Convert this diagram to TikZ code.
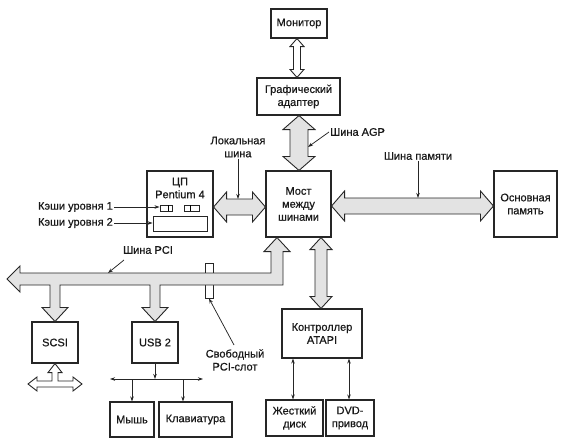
\documentclass[tikz,border=0pt]{standalone}
\usepackage{fontspec}
\setmainfont[FakeBold=0.6]{Liberation Sans}
\usetikzlibrary{arrows.meta,calc}
% vertical double fat arrow: #1 style, #2 upper anchor, #3 lower anchor, #4 x, #5 shaft half, #6 head half, #7 head length
\newcommand\busV[7]{%
 \path[#1] let \p1=(#2), \p2=(#3) in
 (#4pt,\y1) -- ({#4pt+#6pt},{\y1-#7pt}) -- ({#4pt+#5pt},{\y1-#7pt}) -- ({#4pt+#5pt},{\y2+#7pt}) -- ({#4pt+#6pt},{\y2+#7pt}) -- (#4pt,\y2) -- ({#4pt-#6pt},{\y2+#7pt}) -- ({#4pt-#5pt},{\y2+#7pt}) -- ({#4pt-#5pt},{\y1-#7pt}) -- ({#4pt-#6pt},{\y1-#7pt}) -- cycle;}
% horizontal double fat arrow: #4 = y (downward picture units)
\newcommand\busH[7]{%
 \path[#1] let \p1=(#2), \p2=(#3) in
 (\x1,-#4pt) -- ({\x1+#7pt},{-#4pt+#6pt}) -- ({\x1+#7pt},{-#4pt+#5pt}) -- ({\x2-#7pt},{-#4pt+#5pt}) -- ({\x2-#7pt},{-#4pt+#6pt}) -- (\x2,-#4pt) -- ({\x2-#7pt},{-#4pt-#6pt}) -- ({\x2-#7pt},{-#4pt-#5pt}) -- ({\x1+#7pt},{-#4pt-#5pt}) -- ({\x1+#7pt},{-#4pt-#6pt}) -- cycle;}
\begin{document}
\begin{tikzpicture}[x=1pt,y=-1pt,
  box/.style={draw=black!85, line width=1.1pt, fill=white, align=center, inner sep=1pt,
    font=\fontsize{11}{13}\selectfont, text=black!90},
  small/.style={draw=black!85, line width=0.9pt, fill=white, inner sep=0pt},
  bus/.style={draw=black!85, line width=0.9pt, fill=gray!22, line join=miter},
  hollow/.style={draw=black!85, line width=0.9pt, fill=white, line join=miter},
  ptr/.style={-{Stealth[length=5pt,width=3.5pt]}, line width=0.75pt, draw=black!85},
  thin/.style={{Stealth[length=5pt,width=3.5pt]}-{Stealth[length=5pt,width=3.5pt]}, line width=0.75pt, draw=black!85},
  lbl/.style={align=center, inner sep=1pt, font=\fontsize{11}{13}\selectfont, text=black!90}]
\useasboundingbox (0,0) rectangle (572,447);

% main boxes
\node[box, minimum width=56pt, minimum height=29pt] (mon) at (299,23.5) {Монитор};
\node[box, minimum width=83pt, minimum height=37pt] (ga) at (298.5,96.5) {Графический\\адаптер};
\node[box, minimum width=65pt, minimum height=66pt] (br) at (298.5,204) {Мост\\между\\шинами};
\node[box, minimum width=63pt, minimum height=66pt] (mem) at (525.5,204) {Основная\\память};
\node[box, minimum width=66pt, minimum height=66pt] (cpu) at (180,204) {};
\node[lbl] (cputxt) at (180,188) {ЦП\\Pentium 4};
\node[small, minimum width=12pt, minimum height=6pt] (l1a) at (166,208) {};
\node[small, minimum width=15pt, minimum height=6pt] (l1b) at (191.5,208) {};
\draw[line width=0.5pt] (168,205) -- (168,211) (190,205) -- (190,211);
\node[small, minimum width=54pt, minimum height=15pt] (l2) at (180,223.5) {};

\node[box, minimum width=46pt, minimum height=41pt] (scsi) at (55,342.5) {SCSI};
\node[box, minimum width=46pt, minimum height=41pt] (usb) at (155,342.5) {USB 2};
\node[box, minimum width=80pt, minimum height=49pt] (atapi) at (322,333.5) {Контроллер\\ATAPI};
\node[box, minimum width=57pt, minimum height=36pt] (hdd) at (294.5,418) {Жесткий\\диск};
\node[box, minimum width=48pt, minimum height=36pt] (dvd) at (350,418) {DVD-\\привод};
\node[box, minimum width=44pt, minimum height=35pt] (mouse) at (132,419.5) {Мышь};
\node[box, minimum width=73pt, minimum height=35pt] (kbd) at (195.5,419.5) {Клавиатура};

% free PCI slot (drawn under the bus)
\node[small, minimum width=8pt, minimum height=35pt] (slot) at (209,280.5) {};

% fat buses
\busV{hollow}{mon.south}{ga.north}{297}{3.5}{7}{8}
\busV{bus}{ga.south}{br.north}{299}{9}{16}{14}
\busH{bus}{cpu.east}{br.west}{207}{8}{15}{13}
\busH{bus}{br.east}{mem.west}{206}{8}{15}{13}
\busV{bus}{br.south}{atapi.north}{321}{6}{11}{12}

% PCI bus
\path[bus] let \p1=(br.south), \p2=(scsi.north), \p3=(usb.north) in
 (7pt,-279pt) -- (20pt,-266pt) -- (20pt,-273pt) -- (271pt,-273pt) -- (271pt,{\y1-14pt}) -- (264pt,{\y1-14pt}) -- (277pt,\y1) -- (290pt,{\y1-14pt}) -- (283pt,{\y1-14pt}) -- (283pt,-285pt)
 -- ({\x3+5pt},-285pt) -- ({\x3+5pt},{\y3+14pt}) -- ({\x3+13pt},{\y3+14pt}) -- (\x3,\y3) -- ({\x3-13pt},{\y3+14pt}) -- ({\x3-5pt},{\y3+14pt}) -- ({\x3-5pt},-285pt)
 -- ({\x2+5pt},-285pt) -- ({\x2+5pt},{\y2+14pt}) -- ({\x2+13pt},{\y2+14pt}) -- (\x2,\y2) -- ({\x2-13pt},{\y2+14pt}) -- ({\x2-5pt},{\y2+14pt}) -- ({\x2-5pt},-285pt)
 -- (20pt,-285pt) -- (20pt,-292pt) -- cycle;

% SCSI external connector (T-shaped hollow arrow)
\path[hollow] let \p1=(scsi.south) in
 (\x1,\y1) -- ({\x1+7pt},{\y1-9pt}) -- ({\x1+3pt},{\y1-9pt}) -- ({\x1+3pt},-381pt) -- ({\x1+18pt},-381pt) -- ({\x1+18pt},-377pt) -- ({\x1+27pt},-384pt) -- ({\x1+18pt},-391pt) -- ({\x1+18pt},-387pt)
 -- ({\x1-18pt},-387pt) -- ({\x1-18pt},-391pt) -- ({\x1-27pt},-384pt) -- ({\x1-18pt},-377pt) -- ({\x1-18pt},-381pt) -- ({\x1-3pt},-381pt) -- ({\x1-3pt},{\y1-9pt}) -- ({\x1-7pt},{\y1-9pt}) -- cycle;

% USB tree
\coordinate (uj) at (155,379);
\coordinate (ul) at (110,379);
\coordinate (ur) at (203,379);
\draw[ptr] (usb.south) -- (uj);
\draw[thin] (ul) -- (ur);
\draw[ptr] (mouse.north |- uj) -- (mouse.north);
\draw[ptr] (183,379) -- (kbd.north -| 183,0);

% ATAPI to drives
\draw[thin] (293,0 |- atapi.south) -- (293,0 |- hdd.north);
\draw[thin] (349,0 |- atapi.south) -- (349,0 |- dvd.north);

% labels and pointers
\node[lbl] (lloc) at (238,147) {Локальная\\шина};
\coordinate (lloct) at (238,199);
\draw[ptr] (lloc.south) -- (lloct);

\node[lbl, anchor=west] (lagp) at (329,132) {Шина AGP};
\coordinate (agpt) at (308,147);
\draw[ptr] (lagp.west) -- (agpt);

\node[lbl] (lmem) at (418,156) {Шина памяти};
\coordinate (memt) at (418,198);
\draw[ptr] (lmem.south) -- (memt);

\node[lbl] (lpci) at (148,250) {Шина PCI};
\coordinate (pcit) at (108,273);
\draw[ptr] (124,260) -- (pcit);

\node[lbl] (lslot) at (235,360) {Свободный\\PCI-слот};
\draw[ptr] (234,345) -- (slot.south);

\node[lbl, anchor=east] (c1) at (114,207) {Кэши уровня 1};
\node[lbl, anchor=east] (c2) at (114,223) {Кэши уровня 2};
\draw[ptr] (c1.east) -- (c1.east -| l1a.west);
\draw[ptr] (c2.east) -- (c2.east -| l2.west);
\end{tikzpicture}
\end{document}
